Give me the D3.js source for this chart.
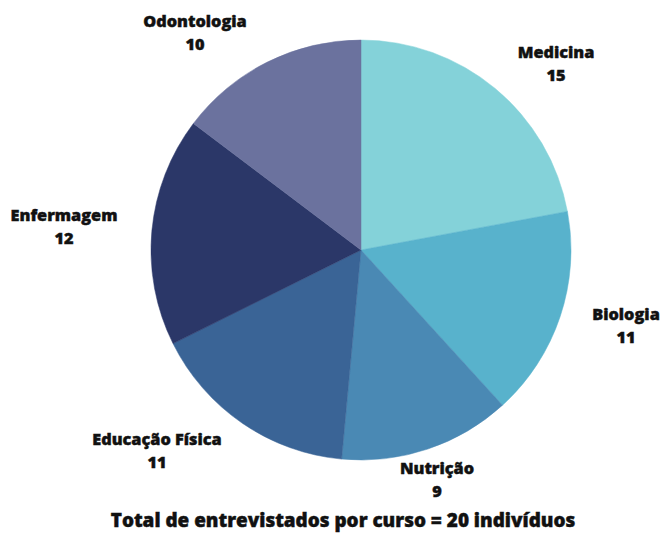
<!DOCTYPE html>
<html>
<head>
<meta charset="utf-8">
<script src="https://cdn.jsdelivr.net/npm/d3@7"></script>
<style>
  html, body { margin: 0; padding: 0; background: #ffffff; }
  svg { display: block; }
  text { font-family: "Open Sans", "DejaVu Sans", sans-serif; font-weight: 800; fill: #111; stroke: #111; stroke-width: 0.45px; }
</style>
</head>
<body>
<svg id="chart" width="662" height="536"></svg>
<script>
// Courses and number of interviewees per course
const courses = ["Medicina", "Biologia", "Nutrição", "Educação Física", "Enfermagem", "Odontologia"];
const counts = [15, 11, 9, 11, 12, 10];
const colors = ["#84d2d9", "#58b2cc", "#4a89b4", "#3a6496", "#2b3768", "#6b729e"];
const footer = "Total de entrevistados por curso = 20 indivíduos";

// Label anchor offsets from the pie centre (layout only)
const labelOffsets = [[195, -192], [265, 70], [76, 224], [-204, 195], [-297, -29], [-166, -223]];

const W = 662, H = 536;
const cx = 361, cy = 250, R = 210;

const svg = d3.select("#chart");
const g = svg.append("g").attr("transform", `translate(${cx},${cy})`);

const data = courses.map((c, i) => ({ course: c, value: counts[i], i }));

const pie = d3.pie().value(d => d.value).sort(null);
const arc = d3.arc().innerRadius(0).outerRadius(R);
const color = d3.scaleOrdinal().domain(courses).range(colors);

const arcs = pie(data);

g.selectAll("path.slice")
  .data(arcs)
  .join("path")
  .attr("class", "slice")
  .attr("d", arc)
  .attr("fill", d => color(d.data.course))
  .attr("stroke", d => color(d.data.course))
  .attr("stroke-width", 0.5);

const labels = g.selectAll("g.label")
  .data(arcs)
  .join("g")
  .attr("class", "label")
  .attr("transform", d => `translate(${labelOffsets[d.data.i][0]},${labelOffsets[d.data.i][1]})`);

labels.append("text")
  .attr("text-anchor", "middle")
  .attr("font-size", 16.3)
  .attr("y", 0)
  .text(d => d.data.course);

labels.append("text")
  .attr("text-anchor", "middle")
  .attr("font-size", 16.3)
  .attr("y", 23)
  .text(d => d.data.value);

svg.append("text")
  .attr("x", 343)
  .attr("y", 527)
  .attr("text-anchor", "middle")
  .attr("font-size", 18.9)
  .text(footer);
</script>
</body>
</html>
